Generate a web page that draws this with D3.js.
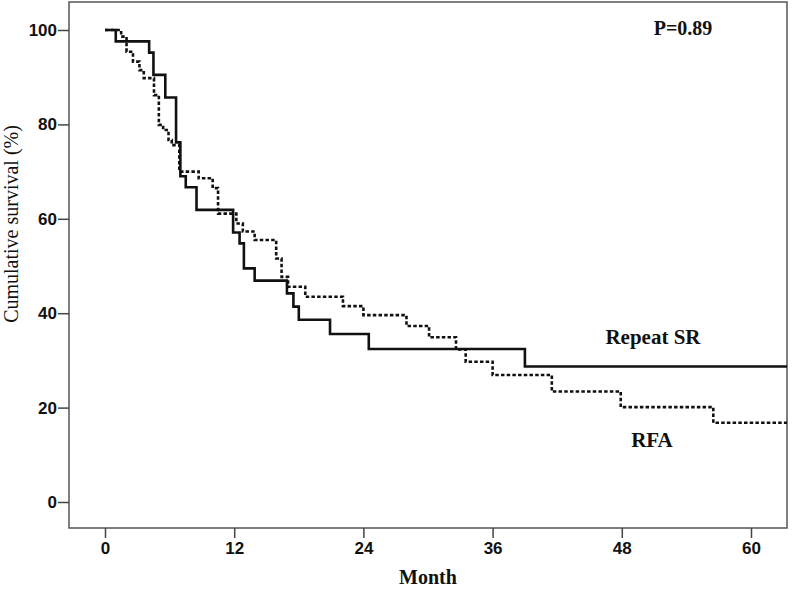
<!DOCTYPE html>
<html>
<head>
<meta charset="utf-8">
<script src="https://cdn.jsdelivr.net/npm/d3@7"></script>
<style>
  body { margin: 0; background: #fff; }
  svg { display: block; }
  .tick text { font-family: "Liberation Sans Narrow", "Arial Narrow", "Liberation Sans", sans-serif; font-weight: bold; font-size: 17px; fill: #111; }
  .lbl { font-family: "Liberation Serif", "Times New Roman", serif; fill: #111; }
</style>
</head>
<body>
<svg id="chart" width="793" height="591"></svg>
<script>
// Kaplan-Meier steps (month, cumulative survival %)
const srMonths = [0, 1.0, 4.1, 4.5, 5.6, 6.6, 7.0, 7.5, 8.5, 11.9, 12.5, 12.9, 13.9, 16.9, 17.5, 18.0, 20.9, 24.5, 39.0];
const srSurv   = [100, 97.6, 95.2, 90.5, 85.7, 76.2, 69.0, 66.7, 61.9, 57.1, 54.8, 49.5, 46.9, 44.2, 41.4, 38.6, 35.6, 32.4, 28.7];

const rfaMonths = [0, 1.5, 2.0, 2.6, 3.2, 3.6, 4.55, 5.0, 5.4, 5.9, 6.2, 6.9, 8.7, 10.0, 10.5, 12.2, 12.8, 13.9, 15.9, 16.4, 17.0, 18.6, 22.1, 24.0, 28.0, 30.1, 32.6, 33.5, 36.0, 41.5, 47.9, 56.5];
const rfaSurv   = [100, 98.6, 95.4, 93.3, 91.5, 89.8, 86.2, 79.9, 78.8, 76.7, 75.6, 70.0, 68.6, 66.5, 61.1, 59.0, 57.3, 55.5, 51.6, 47.7, 45.6, 43.5, 41.5, 39.6, 37.3, 34.9, 32.3, 29.7, 26.9, 23.4, 20.1, 16.8];

const xTicks = [0, 12, 24, 36, 48, 60];
const yTicks = [0, 20, 40, 60, 80, 100];

const svg = d3.select('#chart');

// plot frame
const frame = { left: 69, right: 787, top: 2, bottom: 528 };

const x = d3.scaleLinear().domain([0, 60]).range([105, 751]);
const y = d3.scaleLinear().domain([0, 100]).range([502, 30]);
const xEnd = x.invert(frame.right);

svg.append('rect')
  .attr('x', frame.left).attr('y', frame.top)
  .attr('width', frame.right - frame.left).attr('height', frame.bottom - frame.top)
  .attr('fill', 'none').attr('stroke', '#555').attr('stroke-width', 1.5);

// axes
const xAxis = svg.append('g')
  .attr('transform', `translate(0,${frame.bottom})`)
  .call(d3.axisBottom(x).tickValues(xTicks).tickSize(10).tickPadding(4));
const yAxis = svg.append('g')
  .attr('transform', `translate(${frame.left},0)`)
  .call(d3.axisLeft(y).tickValues(yTicks).tickSize(11).tickPadding(1));
[xAxis, yAxis].forEach(a => {
  a.select('.domain').remove();
  a.selectAll('.tick line').attr('stroke', '#444').attr('stroke-width', 1.5);
});

// survival curves
const line = d3.line()
  .x(d => x(d[0]))
  .y(d => y(d[1]))
  .curve(d3.curveStepAfter);

const toPts = (ms, ss) => {
  const pts = ms.map((m, i) => [m, ss[i]]);
  pts.push([xEnd, ss[ss.length - 1]]);
  return pts;
};

svg.append('path')
  .attr('d', line(toPts(rfaMonths, rfaSurv)))
  .attr('fill', 'none').attr('stroke', '#111')
  .attr('stroke-width', 2.6).attr('stroke-dasharray', '3.5,2.2');

svg.append('path')
  .attr('d', line(toPts(srMonths, srSurv)))
  .attr('fill', 'none').attr('stroke', '#111')
  .attr('stroke-width', 2.6);

// labels
svg.append('text').attr('class', 'lbl')
  .attr('x', 428).attr('y', 584)
  .attr('text-anchor', 'middle')
  .style('font-size', '20px').style('font-weight', 'bold')
  .text('Month');

svg.append('text').attr('class', 'lbl')
  .attr('transform', 'translate(18,224) rotate(-90)')
  .attr('text-anchor', 'middle')
  .style('font-size', '20px')
  .text('Cumulative survival (%)');

svg.append('text').attr('class', 'lbl')
  .attr('x', 683).attr('y', 35)
  .attr('text-anchor', 'middle')
  .style('font-size', '20px').style('font-weight', 'bold')
  .text('P=0.89');

svg.append('text').attr('class', 'lbl')
  .attr('x', 653).attr('y', 344)
  .attr('text-anchor', 'middle')
  .style('font-size', '21px').style('font-weight', 'bold')
  .text('Repeat SR');

svg.append('text').attr('class', 'lbl')
  .attr('x', 652).attr('y', 447)
  .attr('text-anchor', 'middle')
  .style('font-size', '21px').style('font-weight', 'bold')
  .text('RFA');
</script>
</body>
</html>
